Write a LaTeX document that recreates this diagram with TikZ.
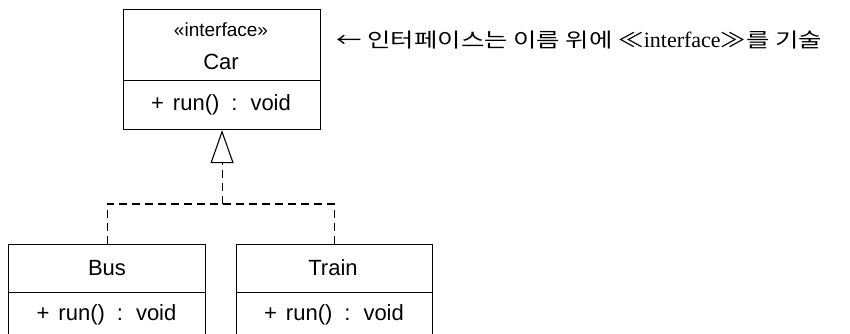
\documentclass[tikz,border=0pt]{standalone}
\usepackage{fontspec}
\setmainfont{Liberation Sans}
\newfontfamily\kr[FakeStretch=1.27]{Noto Sans CJK KR}
\newfontfamily\lser{Liberation Serif}
\usetikzlibrary{arrows.meta}
\newcommand{\meth}{+\hspace{9pt}run()\hspace{12pt}:\hspace{13pt}void}
\begin{document}
\begin{tikzpicture}[x=1pt,y=-1pt,line width=1.1pt,
  cls/.style={draw,anchor=north west,inner sep=0pt,font=\fontsize{22}{24}\selectfont},
  txt/.style={inner sep=0pt,font=\fontsize{22}{24}\selectfont},
  dsh/.style={dash pattern=on 8pt off 5pt}]
\useasboundingbox (0,0) rectangle (850,333);
% Car
\node[cls,minimum width=197pt,minimum height=71pt] (carH) at (123,9) {};
\node[inner sep=0pt,font=\fontsize{19}{20}\selectfont] (carS) at (221,30) {«interface»};
\node[txt] (carN) at (221,62) {Car};
\node[cls,minimum width=197pt,minimum height=49pt] (carB) at (123,80) {};
\node[txt] (carM) at (221,105) {\meth};
% Bus
\node[cls,minimum width=197pt,minimum height=48pt] (busH) at (8,244) {};
\node[txt] (busN) at (107,268) {Bus};
\node[cls,minimum width=197pt,minimum height=60pt] (busB) at (8,292) {};
\node[txt] (busM) at (106.5,315) {\meth};
% Train
\node[cls,minimum width=196pt,minimum height=48pt] (trainH) at (236,244) {};
\node[txt] (trainN) at (333,268) {Train};
\node[cls,minimum width=196pt,minimum height=60pt] (trainB) at (236,292) {};
\node[txt] (trainM) at (334,315) {\meth};
% connectors
\coordinate (j) at (carB.south |- 0,204);
\coordinate (tb) at (carB.south |- 0,162);
\draw[dsh] (busH.north) |- (j) -| (trainH.north);
\draw[dsh] (j) -- (tb);
\draw[-{Triangle[open,length=33pt,width=23pt]},line width=1.1pt] (tb) -- (carB.south);
% comment
\node[anchor=west,inner sep=0pt,font=\fontsize{20}{24}\selectfont] (note) at (336,40)
  {\kr ← 인터페이스는 이름 위에 ≪{\lser\fontsize{22}{24}\selectfont interface}≫를 기술};
\end{tikzpicture}
\end{document}
